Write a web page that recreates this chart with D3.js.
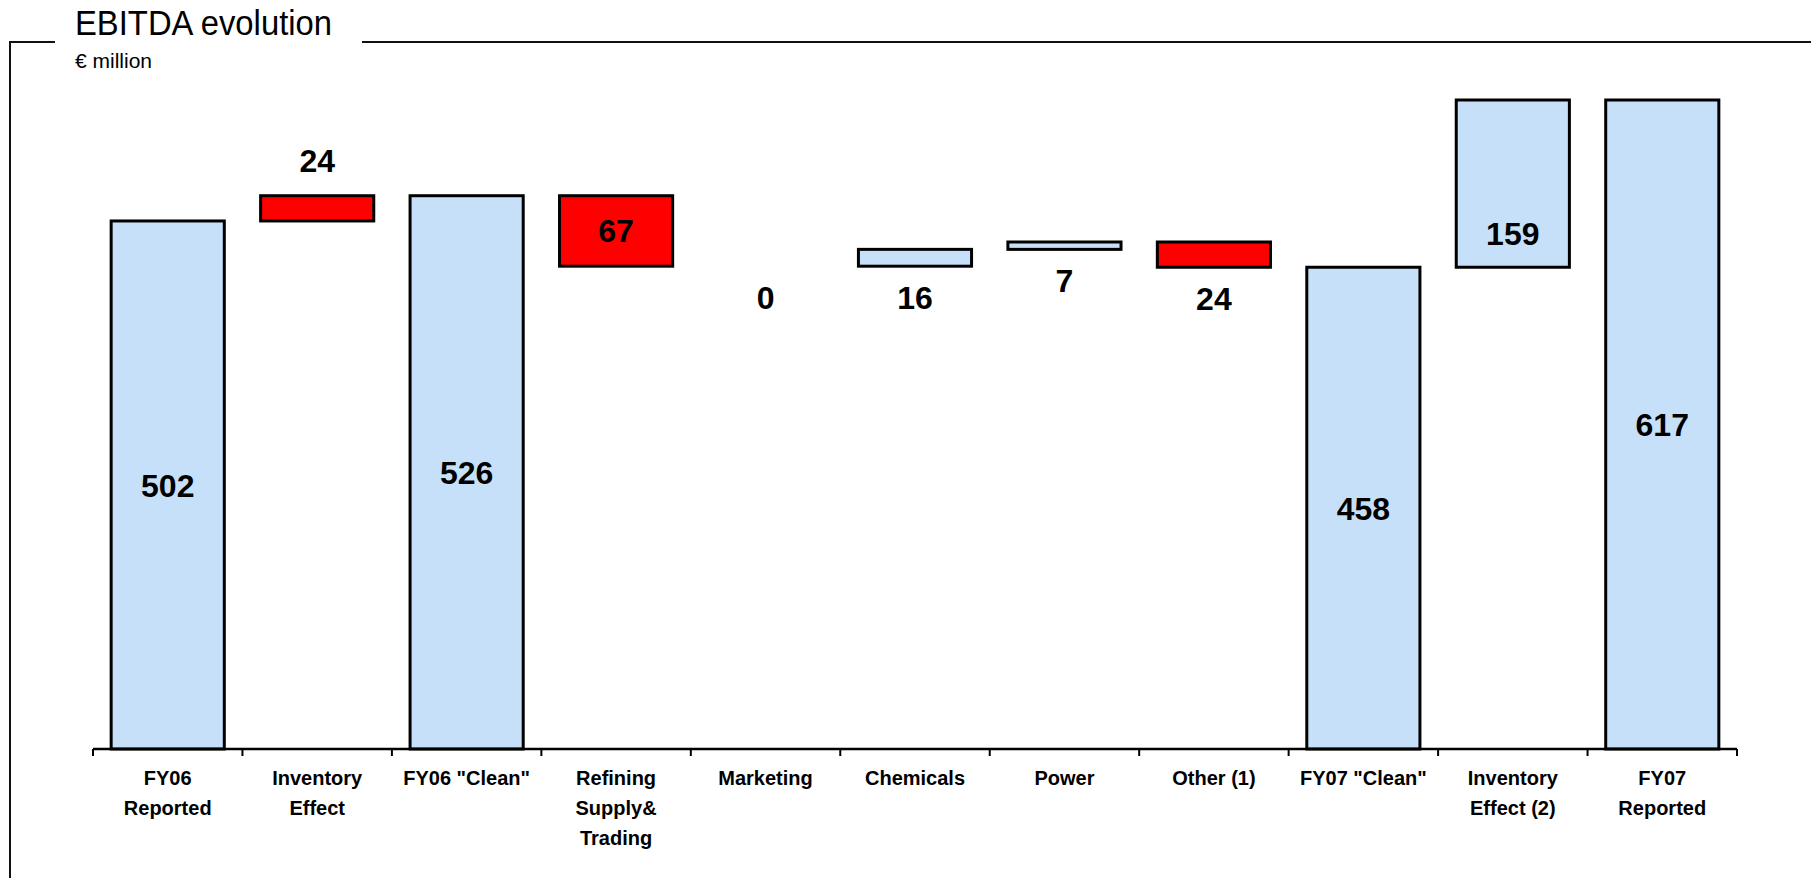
<!DOCTYPE html>
<html>
<head>
<meta charset="utf-8">
<script src="https://cdn.jsdelivr.net/npm/d3@7"></script>
<style>
  html, body { margin: 0; padding: 0; background: #ffffff; }
  svg { display: block; font-family: "Liberation Sans", Arial, sans-serif; }
</style>
</head>
<body>
<svg id="chart" width="1811" height="878"></svg>
<script>
// EBITDA bridge, € million
const categories = [
  ["FY06", "Reported"],
  ["Inventory", "Effect"],
  ["FY06 \"Clean\""],
  ["Refining", "Supply&", "Trading"],
  ["Marketing"],
  ["Chemicals"],
  ["Power"],
  ["Other (1)"],
  ["FY07 \"Clean\""],
  ["Inventory", "Effect (2)"],
  ["FY07", "Reported"]
];
const values = [502, 24, 526, -67, 0, 16, 7, -24, 458, 159, 617];
const isTotal = [true, false, true, false, false, false, false, false, true, false, true];
const isAdverse = [false, true, false, true, false, false, false, true, false, false, false];

// label placement per bar: centred, above the top, below the bottom, or inside near the base
const labelPlacement = ["mid", "above", "mid", "mid", "below", "below", "below", "below", "mid", "base", "mid"];

const svg = d3.select("#chart");
const plot = { left: 93, right: 1737, base: 749 };

// waterfall segments
let running = 0;
const bars = values.map((v, i) => {
  let lo, hi;
  if (isTotal[i]) { lo = 0; hi = v; running = v; }
  else { lo = Math.min(running, running + v); hi = Math.max(running, running + v); running += v; }
  return { i, v, lo, hi, key: categories[i].join(" ") };
});

const x = d3.scaleBand()
  .domain(bars.map(d => d.key))
  .range([plot.left, plot.right])
  .paddingInner(0).paddingOuter(0);

const y = d3.scaleLinear().domain([0, 617]).range([plot.base, 100]);

const barW = x.bandwidth() * 0.757;
const blue = "#c6e0fa", red = "#ff0000";

// frame around the panel with the heading breaking the top rule
svg.append("path")
  .attr("d", "M10,878 L10,42 L55,42 M362,42 L1811,42")
  .attr("fill", "none").attr("stroke", "#111").attr("stroke-width", 2);

svg.append("text").attr("x", 75).attr("y", 35)
  .attr("font-size", 35).attr("fill", "#000")
  .attr("textLength", 257).attr("lengthAdjust", "spacingAndGlyphs")
  .text("EBITDA evolution");
svg.append("text").attr("x", 75).attr("y", 68)
  .attr("font-size", 21).attr("fill", "#000").text("€ million");

// bars
svg.append("g").selectAll("rect")
  .data(bars.filter(d => d.hi > d.lo))
  .join("rect")
  .attr("x", d => x(d.key) + (x.bandwidth() - barW) / 2)
  .attr("width", barW)
  .attr("y", d => y(d.hi))
  .attr("height", d => y(d.lo) - y(d.hi))
  .attr("fill", d => isAdverse[d.i] ? red : blue)
  .attr("stroke", "#000").attr("stroke-width", 3);

// category axis with boundary ticks
const axisG = svg.append("g");
axisG.append("line")
  .attr("x1", plot.left).attr("x2", plot.right)
  .attr("y1", plot.base).attr("y2", plot.base)
  .attr("stroke", "#000").attr("stroke-width", 2.5);
const bounds = x.domain().map(k => x(k)).concat([plot.right]);
axisG.selectAll("line.tick").data(bounds).join("line")
  .attr("class", "tick")
  .attr("x1", d => d).attr("x2", d => d)
  .attr("y1", plot.base).attr("y2", plot.base + 7)
  .attr("stroke", "#000").attr("stroke-width", 2);

const catG = svg.append("g");
bars.forEach(d => {
  const cx = x(d.key) + x.bandwidth() / 2;
  const t = catG.append("text")
    .attr("x", cx).attr("y", 785)
    .attr("text-anchor", "middle")
    .attr("font-size", 20).attr("font-weight", "bold").attr("fill", "#000");
  categories[d.i].forEach((line, j) => {
    t.append("tspan").attr("x", cx).attr("y", 785 + j * 30).text(line);
  });
});

// value labels
svg.append("g").selectAll("text")
  .data(bars)
  .join("text")
  .attr("x", d => x(d.key) + x.bandwidth() / 2)
  .attr("y", d => {
    const p = labelPlacement[d.i];
    if (p === "mid") return (y(d.lo) + y(d.hi)) / 2;
    if (p === "above") return y(d.hi) - 35;
    if (p === "below") return y(d.lo) + 31;
    return y(d.lo) - 34;
  })
  .attr("dy", "0.36em")
  .attr("text-anchor", "middle")
  .attr("font-size", 32).attr("font-weight", "bold").attr("fill", "#000")
  .text(d => Math.abs(d.v));
</script>
</body>
</html>
